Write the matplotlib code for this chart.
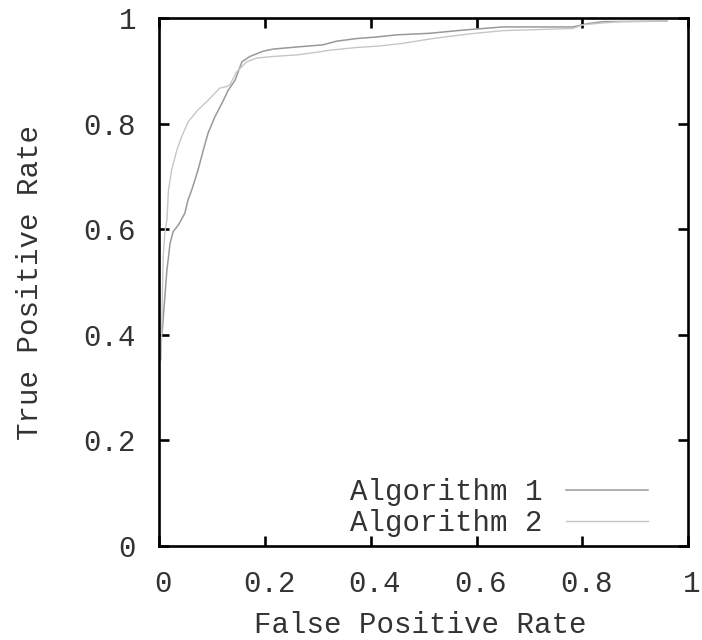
import matplotlib
matplotlib.use("Agg")
import matplotlib.pyplot as plt
import matplotlib.transforms as mtransforms

# ROC curves
alg1_fpr = [0.005, 0.014, 0.017, 0.020, 0.026, 0.036, 0.048, 0.054, 0.061, 0.073,
            0.083, 0.092, 0.105, 0.118, 0.130, 0.143, 0.156, 0.171, 0.196, 0.215,
            0.260, 0.309, 0.335, 0.373, 0.411, 0.449, 0.512, 0.574, 0.650, 0.688,
            0.782, 0.809, 0.839, 0.960]
alg1_tpr = [0.404, 0.523, 0.548, 0.574, 0.596, 0.609, 0.631, 0.656, 0.675, 0.713,
            0.751, 0.783, 0.814, 0.839, 0.864, 0.883, 0.918, 0.928, 0.938, 0.942,
            0.946, 0.950, 0.957, 0.962, 0.965, 0.969, 0.972, 0.978, 0.984, 0.984,
            0.984, 0.990, 0.994, 0.995]

alg2_fpr = [0.003, 0.007, 0.010, 0.014, 0.017, 0.023, 0.033, 0.042, 0.054, 0.073,
            0.092, 0.114, 0.127, 0.133, 0.146, 0.165, 0.184, 0.215, 0.260, 0.297,
            0.323, 0.373, 0.417, 0.461, 0.517, 0.588, 0.650, 0.714, 0.782, 0.801,
            0.833, 0.871, 0.960]
alg2_tpr = [0.353, 0.548, 0.593, 0.618, 0.675, 0.713, 0.751, 0.776, 0.804, 0.827,
            0.845, 0.868, 0.871, 0.874, 0.899, 0.918, 0.925, 0.928, 0.931, 0.936,
            0.940, 0.945, 0.948, 0.953, 0.962, 0.971, 0.977, 0.979, 0.981, 0.988,
            0.991, 0.994, 0.995]

ticks = [0, 0.2, 0.4, 0.6, 0.8, 1]
tick_labels = ["0", "0.2", "0.4", "0.6", "0.8", "1"]

plt.rcParams["font.family"] = ["Liberation Mono", "DejaVu Sans Mono"]
plt.rcParams["font.size"] = 21
text_color = "#333333"

fig = plt.figure(figsize=(7.02, 6.40), dpi=100)
ax = fig.add_axes([0.2272, 0.1469, 0.7529, 0.8242])

ax.plot(alg1_fpr, alg1_tpr, color="#999999", lw=1.1, label="Algorithm 1")
ax.plot(alg2_fpr, alg2_tpr, color="#c6c6c6", lw=1.0, label="Algorithm 2")

ax.set_xlim(0, 1)
ax.set_ylim(0, 1)
ax.set_xticks(ticks)
ax.set_xticklabels(tick_labels)
ax.set_yticks(ticks)
ax.set_yticklabels(tick_labels)

for side in ax.spines.values():
    side.set_linewidth(1.9)
    side.set_color("black")

ax.tick_params(direction="in", length=7.5, width=1.9, top=True, right=True,
               colors="black", labelcolor=text_color)
ax.tick_params(axis="x", pad=17)
ax.tick_params(axis="y", pad=17)

# gnuplot-style small rightward shift of the x tick labels
shift = mtransforms.ScaledTranslation(4 / 100, 0, fig.dpi_scale_trans)
for lbl in ax.get_xticklabels():
    lbl.set_transform(lbl.get_transform() + shift)

ax.set_xlabel("False Positive Rate", color=text_color)
ax.set_ylabel("True Positive Rate", color=text_color)
ax.xaxis.set_label_coords(0.493, -0.123)
ax.yaxis.set_label_coords(-0.218, 0.5)

ax.legend(loc="lower right", bbox_to_anchor=(0.924, 0.017), frameon=False,
          markerfirst=False, handlelength=2.8, handletextpad=0.8,
          borderpad=0, borderaxespad=0, labelspacing=0.1,
          labelcolor=text_color)

fig.savefig("out.png", dpi=100)
